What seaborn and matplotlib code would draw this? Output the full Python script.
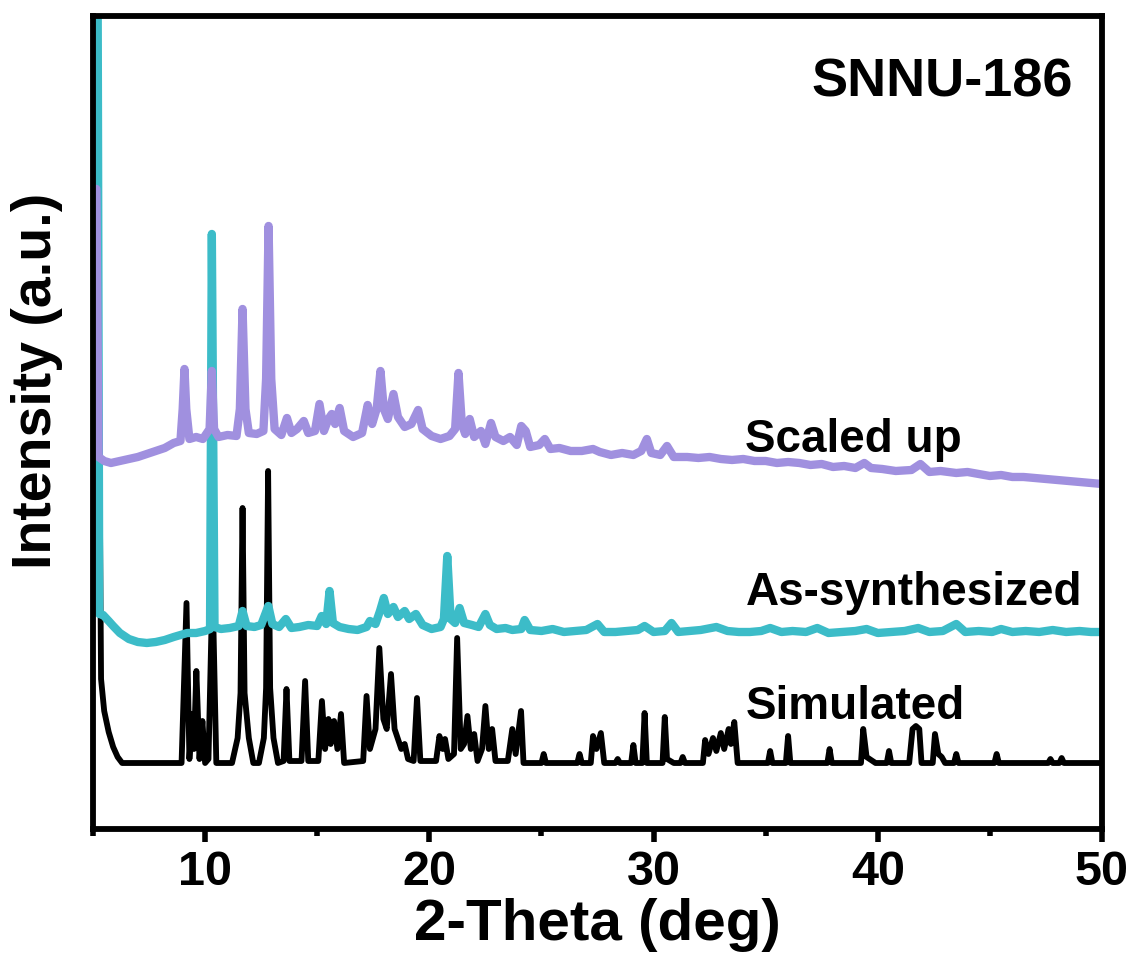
import numpy as np
import pandas as pd
import matplotlib
matplotlib.use("Agg")
import matplotlib.pyplot as plt
import seaborn as sns
from matplotlib.ticker import MultipleLocator

# ---------------- data ----------------
# Simulated pattern (2-theta, intensity)
sim_x = [5.3, 5.36, 5.5, 5.7, 5.9, 6.1, 6.3, 8.95, 9.17, 9.3, 9.43, 9.5, 9.61, 9.75, 9.88, 10.0,
         10.15, 10.33, 10.5, 11.2, 11.45, 11.58, 11.67, 11.76, 11.95, 12.15, 12.4, 12.62, 12.72,
         12.81, 12.9, 13.05, 13.25, 13.5,
         13.63, 13.76, 14.3, 14.46, 14.6, 15.05, 15.21, 15.35, 15.5, 15.6, 15.75, 15.9, 16.06, 16.2,
         17.05, 17.2, 17.35, 17.6, 17.77, 17.95, 18.1, 18.29, 18.45, 18.6, 18.75, 18.9, 19.05, 19.3,
         19.45, 19.6, 20.3, 20.45, 20.6, 20.7, 20.85, 21.1, 21.24, 21.4, 21.55, 21.7, 21.85, 22.0,
         22.15, 22.35, 22.5, 22.65, 22.8, 22.95, 23.5, 23.7, 23.85, 24.09, 24.2, 25.0, 25.1, 25.2,
         26.6, 26.7, 26.8, 27.2, 27.3, 27.45, 27.65, 27.8, 28.3, 28.4, 28.5, 29.0, 29.1, 29.2, 29.5,
         29.6, 29.7, 30.4, 30.5, 30.6, 30.9, 31.2, 31.3, 31.4, 32.2, 32.3, 32.45, 32.65, 32.8, 33.0,
         33.15, 33.35, 33.45, 33.6, 33.75, 35.1, 35.2, 35.3, 35.9, 36.0, 36.1, 37.75, 37.85, 37.95,
         39.25, 39.35, 39.5, 39.9, 40.4, 40.5, 40.6, 41.4, 41.55, 41.7, 41.85, 41.95, 42.45, 42.55,
         42.7, 42.85, 43.0, 43.4, 43.5, 43.6, 45.2, 45.3, 45.4, 47.6, 47.7, 47.8, 48.1, 48.2, 48.3, 50.0]
sim_y = [279, 84, 52, 31, 16, 6, 0, 0, 160, 4, 49, 14, 92, 4, 42, 0,
         4, 180, 0, 0, 25, 70, 255, 70, 25, 0, 0, 25, 75,
         292, 75, 25, 0, 2,
         74, 2, 2, 82, 2, 2, 62, 14, 44, 19, 42, 14, 49, 0,
         2, 67, 14, 34, 115, 44, 34, 89, 34, 24, 14, 19, 4, 2,
         65, 2, 2, 27, 14, 24, 4, 9, 125, 14, 19, 47, 14, 29,
         2, 14, 57, 14, 34, 2, 2, 34, 9, 52, 0, 0, 9, 0,
         0, 9, 0, 0, 27, 14, 30, 0, 0, 4, 0, 0, 18, 0, 0,
         50, 0, 0, 46, 4, 0, 0, 6, 0, 0, 23, 9, 25, 12, 30,
         14, 34, 19, 41, 0, 0, 12, 0, 0, 27, 0, 0, 14, 0,
         0, 34, 6, 0, 0, 12, 0, 0, 34, 37, 34, 0, 0, 29,
         9, 6, 0, 0, 9, 0, 0, 9, 0, 0, 4, 0, 0, 5, 0, 0]

# As-synthesized pattern
syn_x = [5.02, 5.2, 5.28, 5.45, 5.7, 5.9, 6.2, 6.6, 7.0, 7.4, 7.8, 8.2, 8.6, 8.9, 9.2, 9.6, 10.0,
         10.22, 10.3, 10.42, 10.7, 11.1, 11.5, 11.67, 11.85, 12.2, 12.5, 12.82, 13.0, 13.3, 13.6,
         13.85, 14.2, 14.6, 15.0, 15.2, 15.4, 15.55, 15.7, 16.0, 16.4, 16.8, 17.2, 17.35, 17.6,
         17.8, 17.97, 18.15, 18.4, 18.6, 18.9, 19.1, 19.4, 19.7, 20.1, 20.5, 20.65, 20.8, 20.95,
         21.15, 21.35, 21.55, 21.9, 22.2, 22.5, 22.7, 23.0, 23.4, 23.7, 24.1, 24.25, 24.5, 25.0,
         25.5, 26.0, 26.5, 27.0, 27.5, 27.8, 28.3, 28.8, 29.3, 29.6, 30.0, 30.5, 30.8, 31.1, 31.6,
         32.1, 32.8, 33.3, 33.8, 34.3, 34.8, 35.2, 35.7, 36.2, 36.8, 37.3, 37.8, 38.4, 39.0, 39.5,
         40.0, 40.6, 41.2, 41.8, 42.3, 42.9, 43.5, 43.9, 44.5, 45.1, 45.5, 46.0, 46.6, 47.2, 47.8,
         48.4, 49.0, 49.5, 50.0]
syn_y = [704, 704, 19, 18, 12, 7, 0, -6, -9, -10, -9, -7, -4, -2, 0, 0, 2,
         4, 399, 6, 4, 5, 7, 22, 7, 6, 8, 27, 9, 6, 14,
         5, 6, 8, 7, 17, 9, 42, 10, 6, 4, 3, 6, 12, 9,
         22, 35, 19, 26, 16, 22, 14, 19, 8, 4, 6, 14, 77, 14,
         10, 25, 10, 8, 6, 19, 8, 4, 5, 3, 4, 13, 3, 2,
         4, 1, 2, 3, 9, 1, 1, 2, 3, 7, 1, 2, 10, 1, 2,
         3, 6, 2, 1, 1, 2, 5, 1, 2, 1, 5, 0, 1, 2, 4,
         0, 1, 2, 5, 1, 2, 9, 1, 2, 1, 4, 1, 2, 1, 3,
         1, 2, 1, 1]

# Scaled-up pattern
up_x = [5.02, 5.15, 5.25, 5.5, 5.8, 6.2, 6.6, 7.0, 7.4, 7.8, 8.2, 8.6, 8.9, 9.0, 9.08, 9.16, 9.3,
        9.6, 9.9, 10.2, 10.3, 10.4, 10.6, 11.0, 11.4, 11.55, 11.67, 11.8, 11.95, 12.3, 12.6, 12.72,
        12.83, 12.95, 13.1, 13.4, 13.65, 13.85, 14.1, 14.4, 14.6, 14.9, 15.1, 15.3, 15.5, 15.65,
        15.8, 16.0, 16.2, 16.6, 17.0, 17.25, 17.45, 17.65, 17.82, 17.97, 18.15, 18.4, 18.6, 18.9,
        19.2, 19.5, 19.7, 20.1, 20.5, 20.9, 21.15, 21.3, 21.45, 21.6, 21.8, 22.0, 22.3, 22.5,
        22.75, 22.95, 23.3, 23.6, 23.9, 24.1, 24.3, 24.5, 24.9, 25.15, 25.4, 25.8, 26.3, 26.8,
        27.3, 27.6, 28.1, 28.6, 29.1, 29.45, 29.7, 29.9, 30.3, 30.6, 30.9, 31.5, 32.0, 32.5, 33.0,
        33.5, 34.0, 34.5, 35.0, 35.5, 36.0, 36.5, 37.0, 37.5, 38.0, 38.5, 39.0, 39.4, 39.7, 40.2,
        40.8, 41.5, 41.9, 42.3, 42.8, 43.5, 44.0, 44.5, 45.0, 45.5, 46.0, 46.5, 47.0, 47.5, 48.0,
        48.5, 49.0, 49.5, 50.0]
up_y = [250, 250, -18, -22, -24, -22, -20, -18, -15, -12, -9, -4, -2, 30, 70, 30, 0,
        2, 0, 10, 68, 10, 2, 4, 3, 30, 130, 30, 6, 5, 8, 60,
        213, 60, 10, 4, 21, 6, 10, 18, 6, 8, 35, 8, 20, 25,
        15, 31, 8, 2, 6, 34, 15, 30, 68, 30, 20, 45, 22, 12,
        15, 29, 10, 3, 0, 3, 10, 66, 15, 5, 20, 2, 8, -5,
        16, 2, -2, 2, -6, 13, 8, -8, -6, 0, -10, -9, -12, -12,
        -10, -13, -16, -14, -16, -12, 0, -14, -16, -7, -18, -18, -19, -18, -20,
        -21, -20, -22, -22, -24, -23, -24, -26, -25, -28, -27, -29, -24, -29, -30,
        -32, -31, -25, -33, -32, -34, -33, -35, -37, -36, -38, -38, -39, -40, -41,
        -42, -43, -44, -45]

series_names = ["Simulated", "As-synthesized", "Scaled up"]
series_offsets = [66, 196, 390]
series_colors = ["#000000", "#3CBCC8", "#A090DF"]
tick_values = [10, 20, 30, 40, 50]

# ---------------- build long table ----------------
frames = []
for name, xs, ys, off in zip(series_names, [sim_x, syn_x, up_x], [sim_y, syn_y, up_y], series_offsets):
    frames.append(pd.DataFrame({"two_theta": xs,
                                "intensity": np.asarray(ys, float) + off,
                                "sample": name}))
df = pd.concat(frames, ignore_index=True)

# ---------------- plot ----------------
sns.set_style("white")
plt.rcParams["font.family"] = ["Liberation Sans", "DejaVu Sans"]
plt.rcParams["font.weight"] = "bold"
plt.rcParams["text.color"] = "black"
plt.rcParams["axes.labelcolor"] = "black"
plt.rcParams["xtick.color"] = "black"
plt.rcParams["ytick.color"] = "black"

fig = plt.figure(figsize=(11.34, 9.67), dpi=100)
ax = fig.add_axes([0.0820, 0.1427, 0.8898, 0.8408])

lws = [4.2, 6.0, 6.0]
for i, (name, col) in enumerate(zip(series_names, series_colors)):
    sub = df[df["sample"] == name]
    sns.lineplot(data=sub, x="two_theta", y="intensity", ax=ax, color=col,
                 estimator=None, sort=False, linewidth=lws[i], zorder=2 + i)
for i, line in enumerate(ax.lines):
    line.set_linewidth(lws[i])
    line.set_solid_joinstyle("round")
    line.set_solid_capstyle("round")

ax.set_xlim(5, 50)
ax.set_ylim(0, 813)
ax.set_xticks(tick_values)
ax.set_xticklabels([str(t) for t in tick_values])
ax.xaxis.set_minor_locator(MultipleLocator(5))
ax.set_yticks([])

for sp in ax.spines.values():
    sp.set_linewidth(4.2)
    sp.set_color("black")
    sp.set_visible(True)
    sp.set_zorder(10)

ax.tick_params(axis="x", which="major", direction="out", length=9, width=4,
               labelsize=35, pad=6, bottom=True, colors="black")
ax.tick_params(axis="x", which="minor", direction="out", length=5, width=4, bottom=True,
               colors="black")
for lab in ax.get_xticklabels():
    lab.set_fontweight("bold")
    lab.set_color("black")

ax.set_xlabel("2-Theta (deg)", fontsize=42, fontweight="bold", labelpad=2, color="black")
ax.set_ylabel("Intensity (a.u.)", fontsize=40, fontweight="bold", color="black")
ax.yaxis.set_label_coords(-0.0556, 0.551)
ax.yaxis.label.set_va("center")

txt_kw = dict(fontsize=33, fontweight="bold", color="black")
ax.text(34.1, 377, "Scaled up", ha="left", va="baseline", **txt_kw)
ax.text(34.1, 224, "As-synthesized", ha="left", va="baseline", **txt_kw)
ax.text(34.1, 110, "Simulated", ha="left", va="baseline", **txt_kw)
ax.text(48.7, 732, "SNNU-186", ha="right", va="baseline", fontsize=39,
        fontweight="bold", color="black")

if ax.get_legend() is not None:
    ax.get_legend().remove()

fig.savefig("out.png", dpi=100)
